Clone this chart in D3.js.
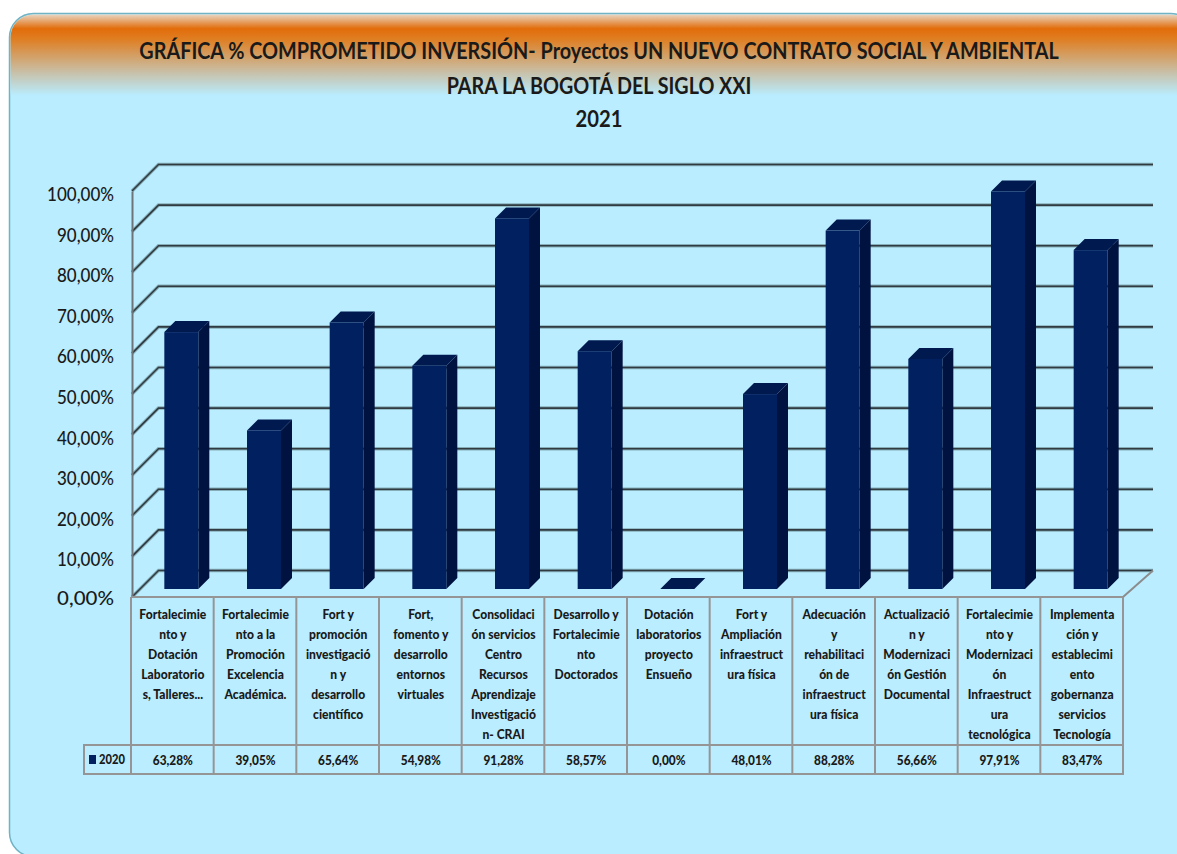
<!DOCTYPE html>
<html>
<head>
<meta charset="utf-8">
<script src="https://cdn.jsdelivr.net/npm/d3@7"></script>
<style>
html, body { margin: 0; padding: 0; background: #fff; overflow: hidden; }
text { font-family: Lato, "Open Sans", sans-serif; fill: #1a1a1a; }
</style>
</head>
<body>
<div id="chart"></div>
<script>
const titleLines = [
    "GRÁFICA % COMPROMETIDO INVERSIÓN- Proyectos UN NUEVO CONTRATO SOCIAL Y AMBIENTAL",
    "PARA LA BOGOTÁ DEL SIGLO XXI",
    "2021"
];
const seriesName = "2020";
const categories = [
    ["Fortalecimie", "nto y", "Dotación", "Laboratorio", "s, Talleres..."],
    ["Fortalecimie", "nto a la", "Promoción", "Excelencia", "Académica."],
    ["Fort y", "promoción", "investigació", "n y", "desarrollo", "científico"],
    ["Fort,", "fomento y", "desarrollo", "entornos", "virtuales"],
    ["Consolidaci", "ón servicios", "Centro", "Recursos", "Aprendizaje", "Investigació", "n- CRAI"],
    ["Desarrollo y", "Fortalecimie", "nto", "Doctorados"],
    ["Dotación", "laboratorios", "proyecto", "Ensueño"],
    ["Fort y", "Ampliación", "infraestruct", "ura física"],
    ["Adecuación", "y", "rehabilitaci", "ón de", "infraestruct", "ura física"],
    ["Actualizació", "n y", "Modernizaci", "ón Gestión", "Documental"],
    ["Fortalecimie", "nto y", "Modernizaci", "ón", "Infraestruct", "ura", "tecnológica"],
    ["Implementa", "ción y", "establecimi", "ento", "gobernanza", "servicios", "Tecnología"]
];
const values = [63.28, 39.05, 65.64, 54.98, 91.28, 58.57, 0, 48.01, 88.28, 56.66, 97.91, 83.47];
const yTicks = [0, 10, 20, 30, 40, 50, 60, 70, 80, 90, 100];

const width = 1177, height = 854;
const depth = 26.5;    // wall offset of the 3d box
const barDepth = 11;   // bar side offset
const barLift = 8;     // bar sits a bit behind the front edge

const svg = d3.select("#chart").append("svg")
    .attr("width", width)
    .attr("height", height)
    .style("display", "block");

// panel gradient
const grad = svg.append("defs").append("linearGradient")
    .attr("id", "panelGrad")
    .attr("x1", 0).attr("x2", 0)
    .attr("y1", 13).attr("y2", 100)
    .attr("gradientUnits", "userSpaceOnUse");
[[0, "#e8e0d4"], [0.18, "#e36c0a"], [0.3, "#df7e22"], [0.7, "#c7c3ae"], [0.95, "#b9edff"]]
    .forEach(d => grad.append("stop").attr("offset", d[0]).attr("stop-color", d[1]));

svg.append("rect")
    .attr("x", 9.5).attr("y", 13.5)
    .attr("width", 1185).attr("height", 843)
    .attr("rx", 24)
    .attr("fill", "#b9edff")
    .attr("stroke", "#6fb3c4")
    .attr("stroke-width", 1.5);
svg.append("rect")
    .attr("x", 10.5).attr("y", 14.5)
    .attr("width", 1183).attr("height", 100)
    .attr("rx", 23)
    .attr("fill", "url(#panelGrad)");

// squeeze a text to a given width
function fitWidth(sel, cx, yPos, w) {
    let len = sel.node().getComputedTextLength();
    sel.attr("transform", `translate(${cx},${yPos}) scale(${w / len},1)`);
}

// title
const titleY = [59, 94, 127];
const titleWidth = [920, 305, 47];
titleLines.forEach((line, i) => {
    let t = svg.append("text")
        .attr("class", "chart-title")
        .attr("text-anchor", "middle")
        .attr("font-size", 23)
        .attr("font-weight", 700)
        .text(line);
    fitWidth(t, 599, titleY[i], titleWidth[i]);
});

// scales
const x = d3.scaleBand().domain(d3.range(values.length)).range([131, 1123]);
const y = d3.scaleLinear().domain([0, 100]).range([597, 191]);
const fmt = d3.formatLocale({decimal: ",", thousands: ".", grouping: [3], currency: ["", ""]}).format(".2f");
const pct = d => fmt(d) + "%";

// gridlines on the walls
const axisLeft = x.range()[0] + 1, axisRight = x.range()[1];
const gridPath = d => `M${axisLeft},${y(d)}L${axisLeft + depth},${y(d) - depth}H${axisRight + 30}`;
const grid = svg.append("g").attr("class", "grid").attr("fill", "none");
grid.selectAll(".halo")
    .data(yTicks)
    .enter().append("path")
    .attr("class", "halo")
    .attr("stroke", "#86aeb9")
    .attr("stroke-width", 3.5)
    .attr("d", gridPath);
grid.selectAll(".line")
    .data(yTicks)
    .enter().append("path")
    .attr("class", "line")
    .attr("stroke", "#2f3b40")
    .attr("stroke-width", 1.6)
    .attr("d", gridPath);

// floor edge on the right
svg.append("path")
    .attr("fill", "none")
    .attr("stroke", "#8c8c8c")
    .attr("stroke-width", 2)
    .attr("d", `M${axisRight},${y(0)}L${axisRight + 30},${y(0) - depth}`);

// bars
const bandW = x.bandwidth();
const barW = 34;
const bars = svg.append("g").attr("class", "bars")
    .selectAll("g")
    .data(values)
    .enter().append("g");
const barLeft = i => x(i) + (bandW - barW) / 2 + barLift + 1;
const barTop = d => y(d) - barLift;
const barBottom = y(0) - barLift;

// side
bars.append("path")
    .attr("fill", "#00123f")
    .attr("d", (d, i) => {
        let r = barLeft(i) + barW;
        return `M${r},${barTop(d)}l${barDepth},${-barDepth}V${barBottom - barDepth}l${-barDepth},${barDepth}Z`;
    });
// top
bars.append("path")
    .attr("fill", "#001a50")
    .attr("d", (d, i) => {
        let l = barLeft(i);
        return `M${l},${barTop(d)}l${barDepth},${-barDepth}h${barW}l${-barDepth},${barDepth}Z`;
    });
// front
bars.append("rect")
    .attr("fill", "#002060")
    .attr("x", (d, i) => barLeft(i))
    .attr("y", d => barTop(d))
    .attr("width", barW)
    .attr("height", d => barBottom - barTop(d));

// y axis
const yAxis = d3.axisLeft(y).tickValues(yTicks).tickFormat(pct).tickSize(0).tickPadding(0);
const yG = svg.append("g")
    .attr("class", "y-axis")
    .attr("transform", `translate(${axisLeft},0)`)
    .call(yAxis);
yG.select(".domain").attr("stroke", "#6e7478").attr("stroke-width", 2);
yG.selectAll("text")
    .attr("font-size", 19)
    .attr("font-weight", 500)
    .attr("dy", "0.42em")
    .attr("x", 0)
    .attr("text-anchor", "end")
    .attr("fill", "#26292b")
    .each(function (d) {
        let t = d3.select(this);
        let len = this.getComputedTextLength();
        t.attr("transform", `translate(-18,${d === 0 ? 0 : 1.5}) scale(${(d === 100 ? 67 : 57) / len},1)`);
    });

// data table
const tableTop = 597, catBottom = 745, tableBottom = 774, legendLeft = 84;
const table = svg.append("g").attr("class", "table")
    .attr("fill", "none")
    .attr("stroke", "#959595")
    .attr("stroke-width", 2);
table.append("path")
    .attr("d", `M${x.range()[0]},${tableTop}H${x.range()[1]}`);
table.append("path")
    .attr("d", `M${legendLeft},${catBottom}H${x.range()[1]}V${tableBottom}H${legendLeft}Z`);
table.selectAll(".col")
    .data(d3.range(values.length + 1))
    .enter().append("path")
    .attr("class", "col")
    .attr("d", i => {
        let cx = i === values.length ? x.range()[1] : x(i);
        return `M${cx},${tableTop}V${tableBottom}`;
    });

// category labels
const catG = svg.append("g").attr("class", "categories");
categories.forEach((lines, i) => {
    let t = catG.append("text")
        .attr("transform", `translate(${x(i) + bandW / 2 + 0.5},0) scale(0.93,1)`)
        .attr("text-anchor", "middle")
        .attr("font-size", 13)
        .attr("font-weight", 900);
    lines.forEach((line, j) => {
        t.append("tspan")
            .attr("x", 0)
            .attr("y", 619.5 + j * 20)
            .text(line);
    });
});

// value row
svg.append("g").selectAll("text")
    .data(values)
    .enter().append("text")
    .attr("transform", (d, i) => `translate(${x(i) + bandW / 2 + 0.5},765) scale(0.88,1)`)
    .attr("text-anchor", "middle")
    .attr("font-size", 13.5)
    .attr("font-weight", 900)
    .text(pct);

// legend key
svg.append("rect")
    .attr("x", 89).attr("y", 755)
    .attr("width", 7).attr("height", 9)
    .attr("fill", "#002060");
svg.append("text")
    .attr("transform", "translate(99,764) scale(0.86,1)")
    .attr("font-size", 13)
    .attr("font-weight", 900)
    .text(seriesName);
</script>
</body>
</html>
